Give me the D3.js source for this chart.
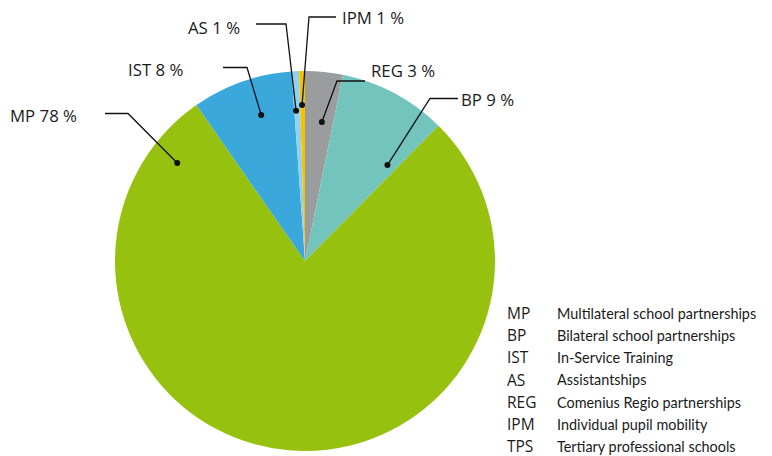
<!DOCTYPE html>
<html>
<head>
<meta charset="utf-8">
<script src="https://cdn.jsdelivr.net/npm/d3@7"></script>
<style>
  body { margin: 0; background: #fff; }
  svg text { font-family: "Open Sans", "Noto Sans", sans-serif; fill: #1a1a1a; }
</style>
</head>
<body>
<svg></svg>
<script>
'use strict';

// slices, clockwise from 12 o'clock
var codes = ['REG', 'BP', 'MP', 'IST', 'AS', 'IPM', 'TPS'];
var shares = [3.2, 9.2, 77.9, 8.55, 0.63, 0.5, 0];
var labels = ['REG 3 %', 'BP 9 %', 'MP 78 %', 'IST 8 %', 'AS 1 %', 'IPM 1 %', ''];
var colours = ['#9a9c9e', '#73c4bc', '#97c10f', '#3aa8db', '#8fd1f1', '#f6c200', '#cccccc'];

// legend
var legendCodes = ['MP', 'BP', 'IST', 'AS', 'REG', 'IPM', 'TPS'];
var legendNames = ['Multilateral school partnerships', 'Bilateral school partnerships',
    'In-Service Training', 'Assistantships', 'Comenius Regio partnerships',
    'Individual pupil mobility', 'Tertiary professional schools'];

var SVG_SIZE = { width: 772, height: 456 };
var CENTER = { x: 305, y: 261 };
var RADIUS = 190;

var svg = d3.select('svg')
    .attr('width', SVG_SIZE.width).attr('height', SVG_SIZE.height);

var data = codes.map(function (c, i) {
    return { code: c, value: shares[i], label: labels[i], colour: colours[i] };
});

var pie = d3.pie().sort(null).value(function (d) { return d.value; });
var arcs = pie(data);
var arc = d3.arc().innerRadius(0).outerRadius(RADIUS);

var plot = svg.append('g')
    .attr('transform', 'translate(' + CENTER.x + ',' + CENTER.y + ')');

plot.selectAll('path').data(arcs).enter().append('path')
    .attr('d', arc)
    .attr('fill', function (d) { return d.data.colour; });

// call-outs: where the dot sits inside its slice (t = fraction of the slice angle),
// then the elbow and the end of the flat line, and the text spot
var callouts = {
    MP:  { t: 0.937, r: 161,   elbow: [128, 113.5], end: [105, 113.5], text: [10, 122] },
    IST: { t: 0.59,  r: 152.5, elbow: [247, 67.5],  end: [223, 67.5],  text: [128, 76] },
    AS:  { t: 0.3,   r: 150.5, elbow: [286, 24],    end: [256, 24],    text: [188, 34] },
    IPM: { t: 0.4,   r: 156,   elbow: [309, 17],    end: [336, 17],    text: [342, 24] },
    REG: { t: 0.6,   r: 140,   elbow: [337, 81],    end: [365, 81],    text: [371, 77] },
    BP:  { t: 0.88,  r: 126.5, elbow: [430, 98.5],  end: [458, 98.5],  text: [461, 106] }
};

arcs.forEach(function (a) {
    var c = callouts[a.data.code];
    if (!c) return;
    var ang = a.startAngle + c.t * (a.endAngle - a.startAngle);
    var dx = CENTER.x + c.r * Math.sin(ang);
    var dy = CENTER.y - c.r * Math.cos(ang);
    svg.append('polyline')
        .attr('points', [[dx, dy], c.elbow, c.end].map(function (p) { return p.join(','); }).join(' '))
        .attr('fill', 'none')
        .attr('stroke', '#111')
        .attr('stroke-width', 1.3);
    svg.append('circle')
        .attr('cx', dx).attr('cy', dy).attr('r', 3)
        .attr('fill', '#111');
    svg.append('text')
        .attr('x', c.text[0]).attr('y', c.text[1])
        .style('font-size', '16.8px')
        .text(a.data.label);
});

// legend
var legend = svg.append('g');
var rowY = d3.scalePoint().domain(legendCodes).range([319, 452]);
legend.selectAll('text.code').data(legendCodes).enter().append('text')
    .attr('class', 'code')
    .attr('x', 507)
    .attr('y', function (d) { return rowY(d); })
    .style('font-size', '15.5px')
    .text(function (d) { return d; });

// names are set a touch narrow, like the condensed face in the original
var names = legend.append('g')
    .attr('transform', 'translate(557,0) scale(0.93,1)');
names.selectAll('text.name').data(legendNames).enter().append('text')
    .attr('class', 'name')
    .attr('x', 0)
    .attr('y', function (d, i) { return rowY(legendCodes[i]); })
    .style('font-size', '15.5px')
    .style('font-family', 'Lato, sans-serif')
    .text(function (d) { return d; });
</script>
</body>
</html>
